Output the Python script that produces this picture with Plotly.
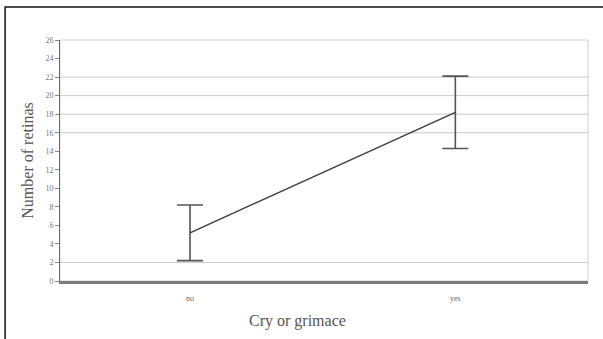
import plotly.graph_objects as go

categories = ["no", "yes"]
means = [5.2, 18.2]
errors = [3.0, 3.9]
y_ticks = list(range(0, 28, 2))
grid_values = [2, 16, 18, 20, 22]
x_title = "Cry or grimace"
y_title = "Number of retinas"

fig = go.Figure()
fig.add_trace(go.Scatter(
    x=[0, 1], y=means, mode="lines",
    line=dict(color="#3a3a3a", width=1.3),
    error_y=dict(type="data", array=errors, visible=True, color="#555555", thickness=1.6, width=13),
    showlegend=False, hoverinfo="skip",
))

shapes = []
for g in grid_values:
    shapes.append(dict(type="line", xref="paper", yref="y", x0=0, x1=1, y0=g, y1=g,
                       line=dict(color="#c8c8c8", width=1), layer="below"))
# outer frame
shapes.append(dict(type="rect", xref="paper", yref="paper", x0=-0.104, x1=1.04, y0=-0.26, y1=1.137,
                   line=dict(color="#111111", width=1.5)))
# plot frame (top/right light)
shapes.append(dict(type="rect", xref="paper", yref="paper", x0=0, x1=1, y0=0, y1=1,
                   line=dict(color="#d0d0d0", width=1), layer="below"))

fig.update_layout(
    width=603, height=339,
    margin=dict(l=60, r=15, t=40, b=58),
    paper_bgcolor="white", plot_bgcolor="white",
    font=dict(family="Liberation Serif", color="#555555"),
    shapes=shapes,
    annotations=[dict(text=x_title, xref="paper", yref="paper", x=0.45, y=-0.166,
                      xanchor="center", yanchor="middle", showarrow=False,
                      font=dict(size=16, color="#555555"))],
    xaxis=dict(
        range=[-0.49, 1.5], tickvals=[0, 1], ticktext=categories,
        showgrid=False, zeroline=False, automargin=False,
        showline=True, linecolor="#7a7a7a", linewidth=2.5,
        ticks="outside", ticklen=8, tickcolor="rgba(0,0,0,0)",
        tickfont=dict(size=8, color="#666666"),
    ),
    yaxis=dict(
        range=[0, 26], tickvals=y_ticks,
        showgrid=False, zeroline=False, automargin=False,
        showline=True, linecolor="#6a6a6a", linewidth=1,
        ticks="outside", ticklen=4, tickcolor="#888888",
        tickfont=dict(size=8, color="#777777"),
        title=dict(text=y_title, font=dict(size=16, color="#555555"), standoff=7),
    ),
)

fig.write_html("out.html", config={"displayModeBar": False},
               post_script="document.body.style.margin='0';")
